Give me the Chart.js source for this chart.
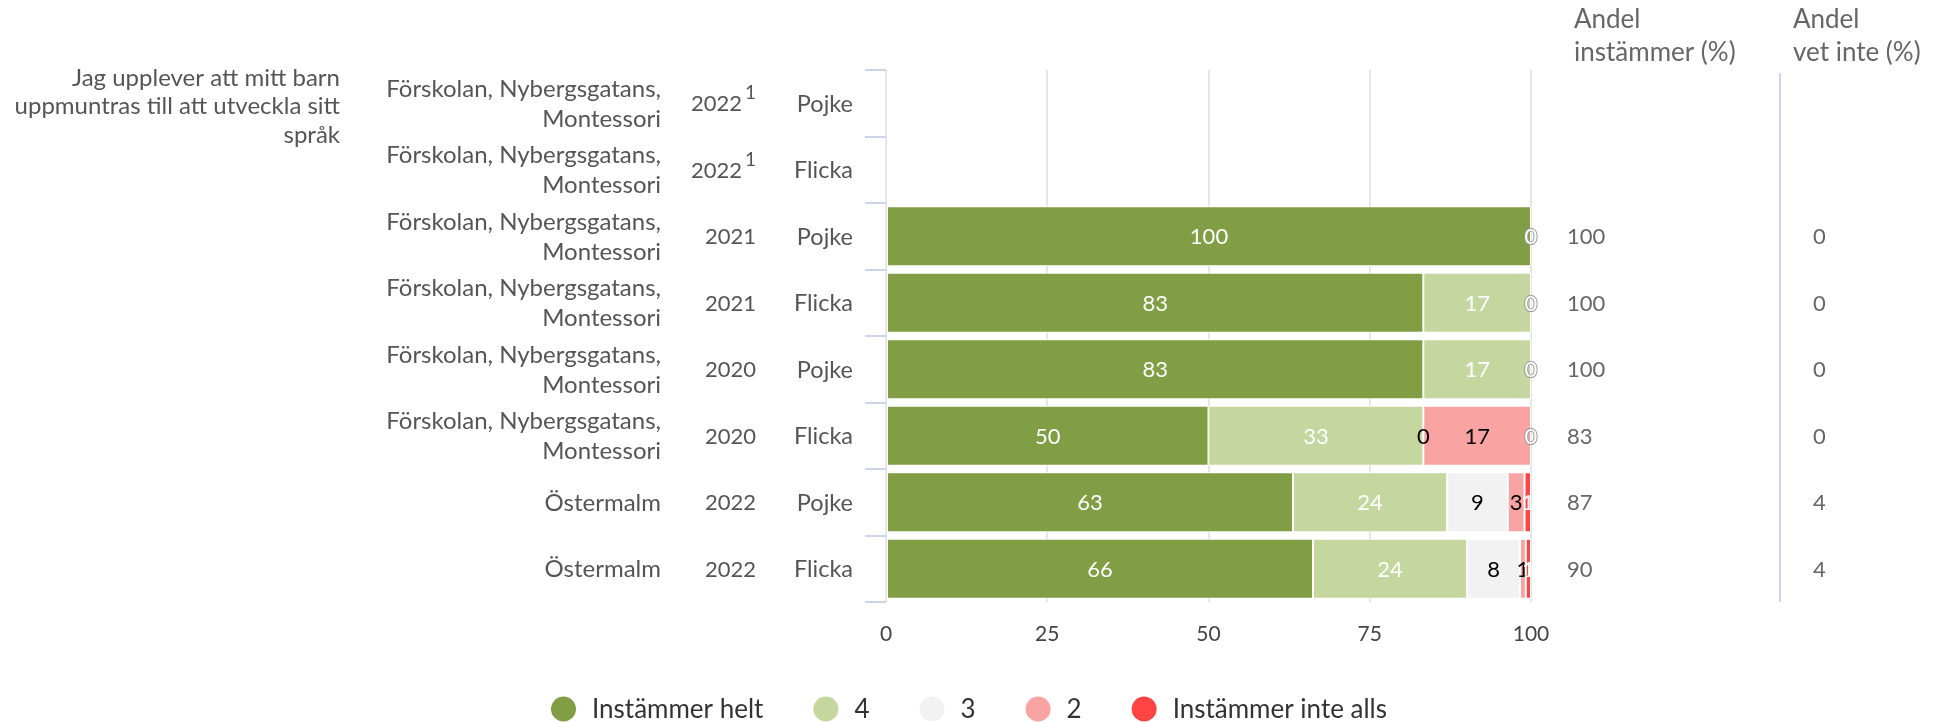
<!DOCTYPE html>
<html>
<head>
<meta charset="utf-8">
<script src="https://cdn.jsdelivr.net/npm/chart.js@4/dist/chart.umd.min.js"></script>
<style>
  html, body { margin: 0; padding: 0; background: #fff; }
  #wrap { width: 1938px; height: 722px; position: relative; }
</style>
</head>
<body>
<div id="wrap"><canvas id="c" width="1938" height="722"></canvas></div>
<script>
// ---------------- DATA ----------------
const question = ['Jag upplever att mitt barn', 'uppmuntras till att utveckla sitt', 'språk'];
const schools = [
  ['Förskolan, Nybergsgatans,', 'Montessori'],
  ['Förskolan, Nybergsgatans,', 'Montessori'],
  ['Förskolan, Nybergsgatans,', 'Montessori'],
  ['Förskolan, Nybergsgatans,', 'Montessori'],
  ['Förskolan, Nybergsgatans,', 'Montessori'],
  ['Förskolan, Nybergsgatans,', 'Montessori'],
  ['Östermalm'],
  ['Östermalm']
];
const years = ['2022', '2022', '2021', '2021', '2020', '2020', '2022', '2022'];
const yearNotes = ['1', '1', '', '', '', '', '', ''];
const genders = ['Pojke', 'Flicka', 'Pojke', 'Flicka', 'Pojke', 'Flicka', 'Pojke', 'Flicka'];

const seriesNames = ['Instämmer helt', '4', '3', '2', 'Instämmer inte alls'];
const helt     = [null, null, 100, 83.3, 83.3, 50, 63.1, 66.2];
const fyra     = [null, null, null, 16.7, 16.7, 33.3, 23.9, 23.9];
const tre      = [null, null, null, null, null, 0, 9.4, 8.2];
const tva      = [null, null, null, null, null, 16.7, 2.6, 0.9];
const inteAlls = [null, null, 0, 0, 0, 0, 1.0, 0.8];

const andelInstammer = [null, null, 100, 100, 100, 83, 87, 90];
const andelVetInte   = [null, null, 0, 0, 0, 0, 4, 4];
const colHeaders = [['Andel', 'instämmer (%)'], ['Andel', 'vet inte (%)']];
const xTicks = [0, 25, 50, 75, 100];

// ---------------- STYLE ----------------
const seriesColors = ['#819e44', '#c5d69e', '#f2f2f2', '#faa3a3', '#ff4444'];
const labelColors  = ['#ffffff', '#ffffff', '#000000', '#000000', '#ffffff'];
const FONT = 'Lato, "Open Sans", sans-serif';

const rowIds = years.map((y, i) => i);

const customDraw = {
  id: 'customDraw',
  afterDatasetsDraw(chart) {
    const ctx = chart.ctx;
    ctx.save();
    ctx.font = '22px ' + FONT;
    ctx.textAlign = 'center';
    ctx.textBaseline = 'middle';
    chart.data.datasets.forEach((ds, di) => {
      const meta = chart.getDatasetMeta(di);
      meta.data.forEach((bar, j) => {
        const v = ds.data[j];
        if (v === null || v === undefined) return;
        const p = bar.getProps(['x', 'base', 'y'], true);
        const cx = (p.x + p.base) / 2;
        const txt = String(Math.round(v));
        if (labelColors[di] === '#ffffff' && v === 0) {
          ctx.lineWidth = 2;
          ctx.strokeStyle = '#9a9a9a';
          ctx.strokeText(txt, cx, p.y + 1);
        }
        ctx.fillStyle = labelColors[di];
        ctx.fillText(txt, cx, p.y + 1);
      });
    });
    ctx.restore();
  },
  afterDraw(chart) {
    const ctx = chart.ctx;
    const ys = chart.scales.y;
    const ca = chart.chartArea;
    const step = ys.getPixelForValue(1) - ys.getPixelForValue(0);
    ctx.save();
    // y tick marks at row boundaries
    ctx.strokeStyle = '#ccd6eb';
    ctx.lineWidth = 2;
    for (let i = 0; i <= years.length; i++) {
      const yy = Math.round(ys.getPixelForValue(i) - step / 2);
      ctx.beginPath();
      ctx.moveTo(ca.left - 21, yy);
      ctx.lineTo(ca.left, yy);
      ctx.stroke();
    }
    // question text
    ctx.font = '24px ' + FONT;
    ctx.textBaseline = 'middle';
    ctx.textAlign = 'right';
    ctx.fillStyle = '#555555';
    question.forEach((ln, k) => ctx.fillText(ln, 340, 78 + k * 28.5));
    // category columns
    for (let i = 0; i < years.length; i++) {
      const cy = ys.getPixelForValue(i);
      ctx.font = '24px ' + FONT;
      ctx.fillStyle = '#555555';
      ctx.textAlign = 'right';
      const lines = schools[i];
      if (lines.length === 2) {
        ctx.fillText(lines[0], 661, cy - 14);
        ctx.fillText(lines[1], 661, cy + 16);
      } else {
        ctx.fillText(lines[0], 661, cy + 1);
      }
      // year with optional note
      let yr = 756;
      if (yearNotes[i]) {
        ctx.font = '19px ' + FONT;
        ctx.fillText(yearNotes[i], yr, cy - 10);
        yr -= ctx.measureText(yearNotes[i]).width + 3;
      }
      ctx.font = '22px ' + FONT;
      ctx.fillText(years[i], yr, cy + 1);
      ctx.font = '23.5px ' + FONT;
      ctx.fillText(genders[i], 853, cy + 1);
      // right columns
      ctx.font = '22px ' + FONT;
      ctx.textAlign = 'left';
      ctx.fillStyle = '#666666';
      if (andelInstammer[i] !== null) ctx.fillText(String(andelInstammer[i]), 1567, cy + 1);
      if (andelVetInte[i] !== null) ctx.fillText(String(andelVetInte[i]), 1813, cy + 1);
    }
    // headers
    ctx.font = '26px ' + FONT;
    ctx.fillStyle = '#666666';
    ctx.textAlign = 'left';
    [1574, 1793].forEach((hx, k) => {
      ctx.fillText(colHeaders[k][0], hx, 20);
      ctx.fillText(colHeaders[k][1], hx, 53);
    });
    // separator line
    ctx.strokeStyle = '#ccd6eb';
    ctx.lineWidth = 2;
    ctx.beginPath();
    ctx.moveTo(1780, 73);
    ctx.lineTo(1780, ca.bottom);
    ctx.stroke();
    // legend
    ctx.font = '26px ' + FONT;
    const r = 12.5, gap = 16, itemGap = 50;
    const widths = seriesNames.map(n => ctx.measureText(n).width);
    let total = 0;
    widths.forEach((w, k) => { total += 2 * r + gap + w + (k < widths.length - 1 ? itemGap : 0); });
    let x = 969 - total / 2;
    const ly = 709;
    seriesNames.forEach((n, k) => {
      ctx.fillStyle = seriesColors[k];
      ctx.beginPath();
      ctx.arc(x + r, ly, r, 0, Math.PI * 2);
      ctx.fill();
      ctx.fillStyle = '#333333';
      ctx.textAlign = 'left';
      ctx.fillText(n, x + 2 * r + gap, ly + 1);
      x += 2 * r + gap + widths[k] + itemGap;
    });
    ctx.restore();
  }
};

new Chart(document.getElementById('c'), {
  type: 'bar',
  data: {
    labels: rowIds,
    datasets: [helt, fyra, tre, tva, inteAlls].map((d, k) => ({
      label: seriesNames[k],
      data: d,
      backgroundColor: seriesColors[k],
      borderColor: '#ffffff',
      borderWidth: 1,
      borderSkipped: false,
      barPercentage: 0.9,
      categoryPercentage: 1
    }))
  },
  options: {
    indexAxis: 'y',
    responsive: false,
    devicePixelRatio: 1,
    animation: false,
    layout: { padding: { left: 886, right: 407, top: 70, bottom: 70 } },
    plugins: { legend: { display: false }, tooltip: { enabled: false } },
    scales: {
      x: {
        stacked: true,
        min: 0, max: 100,
        afterBuildTicks: (s) => { s.ticks = xTicks.map(v => ({ value: v })); },
        afterFit: (s) => { s.height = 50; },
        ticks: { color: '#444444', font: { family: FONT, size: 21 }, padding: 20 },
        grid: { color: '#e6e6e6', lineWidth: 2, drawTicks: false },
        border: { display: false }
      },
      y: {
        stacked: true,
        display: false
      }
    }
  },
  plugins: [customDraw]
});
</script>
</body>
</html>
